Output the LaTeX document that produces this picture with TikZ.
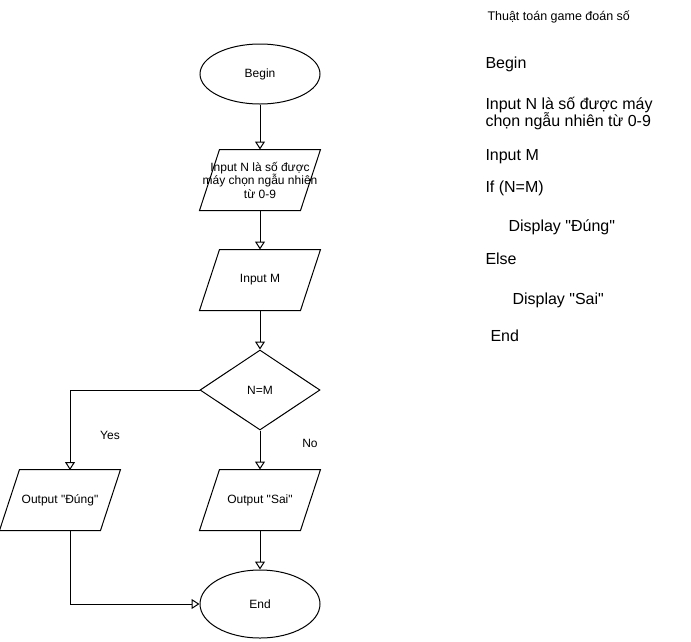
\documentclass[tikz,border=0pt]{standalone}
\usepackage{fontspec}
\setmainfont{Liberation Sans}
\usetikzlibrary{arrows.meta, shapes.geometric}

\begin{document}
\begin{tikzpicture}[x=1pt, y=-1pt, line width=1pt,
font=\fontsize{12}{13.5}\selectfont,
flow/.style={-{Triangle[open, length=8pt, width=10pt]}},
terminal/.style={draw, ellipse, minimum width=120pt, minimum height=60pt, inner sep=0pt},
io/.style={minimum width=120pt, minimum height=60pt, inner sep=0pt, align=center,
  append after command={\pgfextra{\draw ([xshift=20pt]\tikzlastnode.north west)
    -- (\tikzlastnode.north east) -- ([xshift=-20pt]\tikzlastnode.south east)
    -- (\tikzlastnode.south west) -- cycle;}}},
decision/.style={draw, diamond, minimum width=120pt, minimum height=80pt, inner sep=0pt},
pseudo/.style={anchor=base west, inner sep=0pt, font=\fontsize{16}{17}\selectfont}
]
    \useasboundingbox (0, 0) rectangle (691, 641);

    % Flowchart
    \node (begin) at (260, 74) [terminal] {Begin};
    \node (inN) at (260, 180) [io] {Input N là số được\\máy chọn ngẫu nhiên\\từ 0-9};
    \node (inM) at (260, 280) [io] {Input M};
    \node (cmp) at (260, 390) [decision] {N=M};
    \node (outno) at (260, 500) [io] {Output \textquotedbl Sai\textquotedbl};
    \node (outyes) at (60, 500) [io] {Output \textquotedbl Đúng\textquotedbl};
    \node (end) at (260, 604) [terminal, minimum height=68pt] {End};

    \draw [flow] (begin) -- (inN);
    \draw [flow] (inN) -- (inM);
    \draw [flow] (inM) -- (cmp);
    \draw [flow] (cmp) -- (outno);
    \draw [flow] (outno) -- (end);

    % Yes branch
    \coordinate (yesin) at (70, 470);
    \coordinate (yesout) at (70, 530);
    \draw [flow] (cmp.west) -| (yesin);
    \draw [flow] (yesout) |- (end.west);

    \node (yes) at (110, 435) {Yes};
    \node (no) at (310, 443) {No};

    % Pseudocode
    \node (title) at (487, 20) [anchor=base west, inner sep=0pt, font=\fontsize{12.5}{14}\selectfont] {Thuật toán game đoán số};
    \node (p1) at (485, 68) [pseudo] {Begin};
    \node (p2) at (485, 109) [pseudo] {Input N là số được máy};
    \node (p3) at (485, 126) [pseudo] {chọn ngẫu nhiên từ 0-9};
    \node (p4) at (485, 160) [pseudo] {Input M};
    \node (p5) at (485, 192) [pseudo] {If (N=M)};
    \node (p6) at (508, 231) [pseudo] {Display \textquotedbl Đúng\textquotedbl};
    \node (p7) at (485, 264) [pseudo] {Else};
    \node (p8) at (512, 304) [pseudo] {Display \textquotedbl Sai\textquotedbl};
    \node (p9) at (490, 341) [pseudo] {End};

\end{tikzpicture}
\end{document}
